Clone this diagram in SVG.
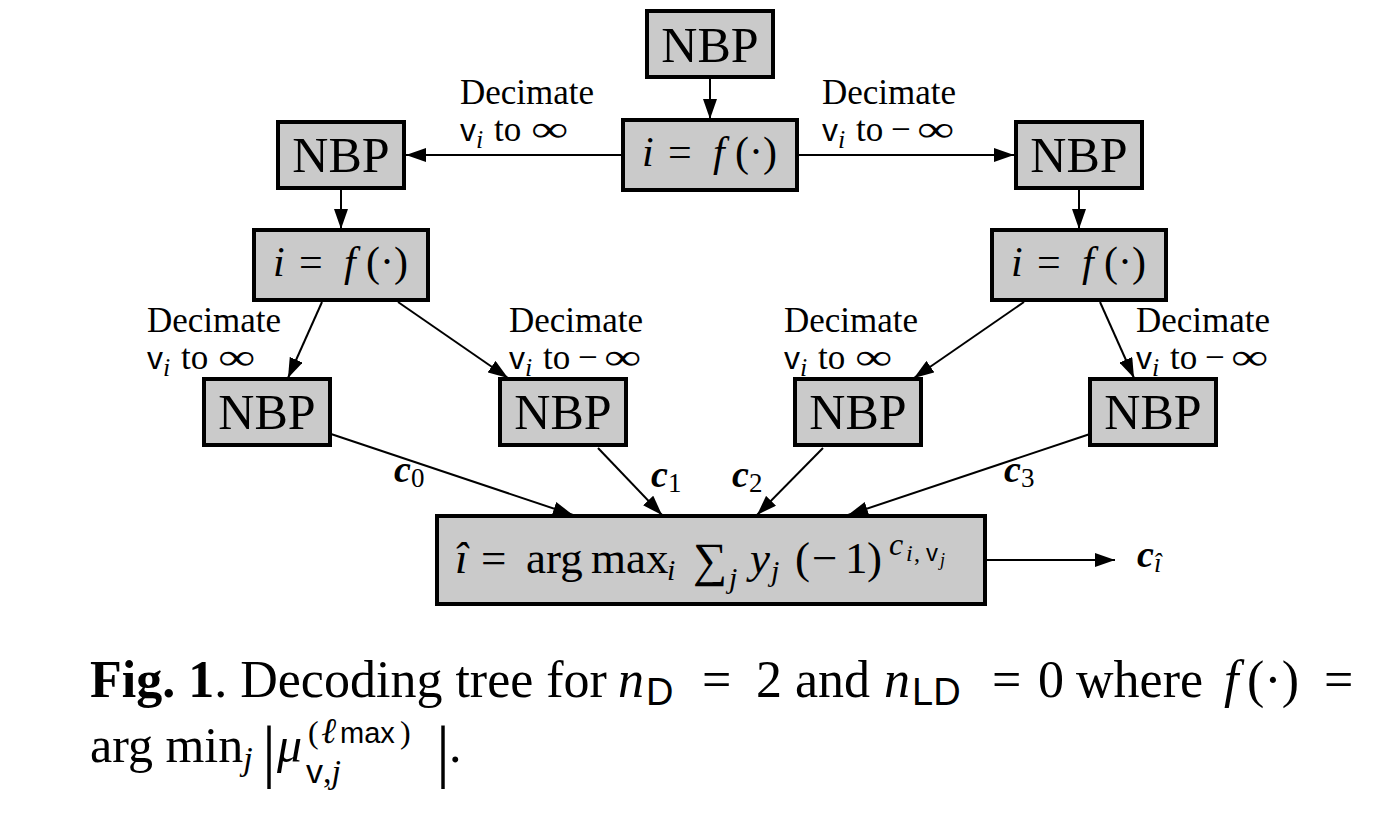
<svg xmlns="http://www.w3.org/2000/svg" width="1377" height="814" viewBox="0 0 1377 814">
<style>
.box{fill:#cacaca;stroke:#000;stroke-width:4}
.t{font-family:"Liberation Serif","Times New Roman",serif;fill:#000}
.nbp{font-size:50px;text-anchor:middle}
.lab{font-size:35px}
.inf{font-family:"Liberation Serif","Times New Roman",serif;font-size:36px;fill:#000}
.it{font-style:italic}
.sf{font-family:"Liberation Sans",Arial,sans-serif;font-style:normal}
.bi{font-style:italic;font-weight:bold}
.ln{stroke:#000;stroke-width:2;fill:none;marker-end:url(#ah)}
</style>
<defs>
<marker id="ah" viewBox="0 0 20 14" refX="20" refY="7" markerWidth="20" markerHeight="14" markerUnits="userSpaceOnUse" orient="auto">
<path d="M0,0 L20,7 L0,14 z" fill="#000"/>
</marker>
</defs>
<g id="connectors">
<line class="ln" x1="710" y1="79" x2="710" y2="119"/>
<line class="ln" x1="622" y1="155" x2="406" y2="155"/>
<line class="ln" x1="798" y1="155" x2="1014" y2="155"/>
<line class="ln" x1="341" y1="190" x2="341" y2="229"/>
<line class="ln" x1="1079" y1="190" x2="1079" y2="229"/>
<line class="ln" x1="322" y1="302" x2="288" y2="378"/>
<line class="ln" x1="398" y1="302" x2="508" y2="378"/>
<line class="ln" x1="1024" y1="302" x2="914" y2="378"/>
<line class="ln" x1="1100" y1="302" x2="1134" y2="378"/>
<line class="ln" x1="331" y1="434" x2="573" y2="515"/>
<line class="ln" x1="598" y1="448" x2="662" y2="515"/>
<line class="ln" x1="823" y1="448" x2="757" y2="515"/>
<line class="ln" x1="1090" y1="434" x2="848" y2="515"/>
<line class="ln" x1="986" y1="560" x2="1115" y2="560"/>
</g>
<g id="labels">
<text class="t lab" x="460" y="104">Decimate</text>
<text class="t lab" x="460" y="141"><tspan class="sf" font-size="32">v</tspan><tspan class="it" font-size="26" x="476" dy="7">i</tspan><tspan x="494" dy="-7">to</tspan></text>
<text class="inf" transform="translate(531,141) scale(1.45,1)">∞</text>
<text class="t lab" x="822" y="104">Decimate</text>
<text class="t lab" x="822" y="141"><tspan class="sf" font-size="32">v</tspan><tspan class="it" font-size="26" x="838" dy="7">i</tspan><tspan x="856" dy="-7">to</tspan><tspan x="891">−</tspan></text>
<text class="inf" transform="translate(917,141) scale(1.45,1)">∞</text>
<text class="t lab" x="147" y="332">Decimate</text>
<text class="t lab" x="147" y="369"><tspan class="sf" font-size="32">v</tspan><tspan class="it" font-size="26" x="163" dy="7">i</tspan><tspan x="181" dy="-7">to</tspan></text>
<text class="inf" transform="translate(218,369) scale(1.45,1)">∞</text>
<text class="t lab" x="509" y="332">Decimate</text>
<text class="t lab" x="509" y="369"><tspan class="sf" font-size="32">v</tspan><tspan class="it" font-size="26" x="525" dy="7">i</tspan><tspan x="543" dy="-7">to</tspan><tspan x="578">−</tspan></text>
<text class="inf" transform="translate(604,369) scale(1.45,1)">∞</text>
<text class="t lab" x="784" y="332">Decimate</text>
<text class="t lab" x="784" y="369"><tspan class="sf" font-size="32">v</tspan><tspan class="it" font-size="26" x="800" dy="7">i</tspan><tspan x="818" dy="-7">to</tspan></text>
<text class="inf" transform="translate(855,369) scale(1.45,1)">∞</text>
<text class="t lab" x="1136" y="332">Decimate</text>
<text class="t lab" x="1136" y="369"><tspan class="sf" font-size="32">v</tspan><tspan class="it" font-size="26" x="1152" dy="7">i</tspan><tspan x="1170" dy="-7">to</tspan><tspan x="1205">−</tspan></text>
<text class="inf" transform="translate(1231,369) scale(1.45,1)">∞</text>
<text class="t" font-size="38" x="394" y="482"><tspan class="bi">c</tspan><tspan font-size="27" dy="5">0</tspan></text>
<text class="t" font-size="38" x="651" y="487"><tspan class="bi">c</tspan><tspan font-size="27" dy="5">1</tspan></text>
<text class="t" font-size="38" x="732" y="487"><tspan class="bi">c</tspan><tspan font-size="27" dy="5">2</tspan></text>
<text class="t" font-size="38" x="1004" y="482"><tspan class="bi">c</tspan><tspan font-size="27" dy="5">3</tspan></text>
<text class="t" font-size="38" x="1137" y="567"><tspan class="bi">c</tspan><tspan class="it" font-size="27" dy="5">î</tspan></text>
</g>
<g id="n_top"><rect class="box" x="647" y="11" width="126" height="66"/><text class="t nbp" x="710" y="62">NBP</text></g>
<g id="f_top"><rect class="box" x="623" y="120" width="174" height="70"/><text class="t" font-size="42" y="166"><tspan class="it" x="642">i</tspan><tspan x="668">=</tspan><tspan class="it" x="713">f</tspan><tspan x="735">(·)</tspan></text></g>
<g id="n_left"><rect class="box" x="278" y="122" width="126" height="66"/><text class="t nbp" x="341" y="172">NBP</text></g>
<g id="n_right"><rect class="box" x="1016" y="122" width="126" height="66"/><text class="t nbp" x="1079" y="172">NBP</text></g>
<g id="f_left"><rect class="box" x="254" y="230" width="174" height="70"/><text class="t" font-size="42" y="276"><tspan class="it" x="273">i</tspan><tspan x="299">=</tspan><tspan class="it" x="344">f</tspan><tspan x="366">(·)</tspan></text></g>
<g id="f_right"><rect class="box" x="992" y="230" width="174" height="70"/><text class="t" font-size="42" y="276"><tspan class="it" x="1011">i</tspan><tspan x="1037">=</tspan><tspan class="it" x="1082">f</tspan><tspan x="1104">(·)</tspan></text></g>
<g id="n0"><rect class="box" x="204" y="379" width="126" height="66"/><text class="t nbp" x="267" y="429">NBP</text></g>
<g id="n1"><rect class="box" x="500" y="379" width="126" height="66"/><text class="t nbp" x="563" y="429">NBP</text></g>
<g id="n2"><rect class="box" x="795" y="379" width="126" height="66"/><text class="t nbp" x="858" y="429">NBP</text></g>
<g id="n3"><rect class="box" x="1090" y="379" width="126" height="66"/><text class="t nbp" x="1153" y="429">NBP</text></g>
<g id="argmax"><rect class="box" x="437" y="516" width="548" height="88"/>
<text class="t" font-size="45" y="573"><tspan class="it" x="455">î</tspan><tspan x="481">=</tspan><tspan x="526">arg</tspan><tspan x="591">max</tspan><tspan class="it" font-size="30" x="667" dy="7">i</tspan><tspan font-size="48" x="693" dy="-4">∑</tspan><tspan class="it" font-size="30" x="729" dy="12">j</tspan><tspan class="it" x="750" dy="-15">y</tspan><tspan class="it" font-size="30" x="771" dy="8">j</tspan><tspan x="795" dy="-8">(</tspan><tspan x="812">−</tspan><tspan x="845">1</tspan><tspan x="867">)</tspan></text>
<text class="t" font-size="32" y="555"><tspan class="it" x="889">c</tspan><tspan class="it" font-size="24" x="906" dy="6">i</tspan><tspan font-size="24" x="914">,</tspan><tspan class="sf" font-size="24" x="926">v</tspan><tspan class="it" font-size="18" x="940" dy="5">j</tspan></text>
</g>
<g id="caption">
<text class="t" font-size="52" y="697"><tspan x="90" font-weight="bold">Fig. 1</tspan>. Decoding tree for</text>
<text class="t" font-size="52" y="697"><tspan class="it" x="618">n</tspan><tspan class="sf" font-size="38" x="646" dy="8">D</tspan><tspan x="702" dy="-8">=</tspan><tspan x="756">2</tspan><tspan x="795">and</tspan><tspan class="it" x="884">n</tspan><tspan class="sf" font-size="38" x="912" dy="8">LD</tspan><tspan x="992" dy="-8">=</tspan><tspan x="1038">0</tspan><tspan x="1076">where</tspan><tspan class="it" x="1224">f</tspan><tspan x="1247">(·)</tspan><tspan x="1324">=</tspan></text>
<text class="t" font-size="50" x="90" y="762">arg min<tspan class="it" font-size="34" dy="8">j</tspan></text>
<text class="t" font-size="70" x="262" y="774">|</text>
<text class="t it" font-size="50" x="277" y="762">μ</text>
<text class="t" font-size="34" x="306" y="783"><tspan class="sf">v</tspan>,<tspan class="it">j</tspan></text>
<text class="t" font-size="32" y="743"><tspan x="308">(</tspan><tspan class="it" font-size="36" x="321">ℓ</tspan><tspan class="sf" font-size="29" x="340">max</tspan><tspan x="400">)</tspan></text>
<text class="t" font-size="70" x="436" y="774">|</text>
<text class="t" font-size="50" x="449" y="762">.</text>
</g>
</svg>
